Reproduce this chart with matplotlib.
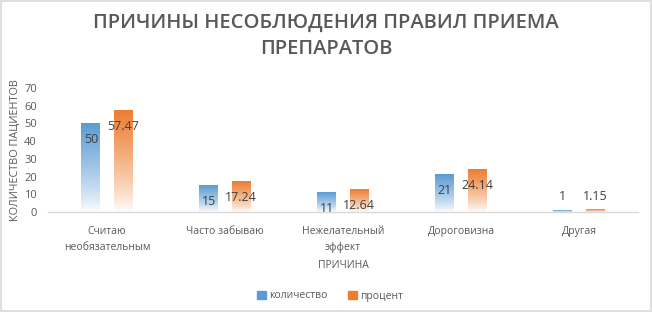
import numpy as np
import matplotlib
matplotlib.use("Agg")
import matplotlib.pyplot as plt
from matplotlib.patches import Rectangle

### Data ###
categories = ["Считаю\nнеобязательным", "Часто забываю", "Нежелательный\nэффект",
              "Дороговизна", "Другая"]
count_vals = [50, 15, 11, 21, 1]
percent_vals = [57.47, 17.24, 12.64, 24.14, 1.15]
count_labels = ["50", "15", "11", "21", "1"]
percent_labels = ["57.47", "17.24", "12.64", "24.14", "1.15"]
series_names = ["количество", "процент"]
y_ticks = [0, 10, 20, 30, 40, 50, 60, 70]

BLUE = "#5B9BD5"
ORANGE = "#ED7D31"
GRAY = "#595959"
FONT = ["Open Sans", "DejaVu Sans"]

plt.rcParams["font.family"] = FONT

fig = plt.figure(figsize=(6.52, 3.12), dpi=100)
ax = fig.add_axes([48 / 652, 1 - 212 / 312, (638 - 48) / 652, (212 - 88) / 312])


# vertical gradient bar: solid colour on top, fading to white at the base
def gradient_bar(ax, xc, width, height, color):
    rgb = matplotlib.colors.to_rgb(color)
    n = 128
    t = np.linspace(0, 1, n) ** 0.8
    img = np.ones((n, 1, 4))
    img[:, 0, :3] = rgb
    img[:, 0, 3] = t
    ax.imshow(img, extent=[xc - width / 2, xc + width / 2, 0, height],
              origin="lower", aspect="auto", interpolation="bilinear", zorder=2)


x = np.arange(len(categories))
width = 0.161
off = 0.136

for i in range(len(categories)):
    gradient_bar(ax, x[i] - off, width, count_vals[i], BLUE)
    gradient_bar(ax, x[i] + off, width, percent_vals[i], ORANGE)

    # data labels (inside end, above the bar when too short)
    for xv, v, lab in [(x[i] - off, count_vals[i], count_labels[i]),
                       (x[i] + off, percent_vals[i], percent_labels[i])]:
        ly = v - 9 if v > 9 else v + 7.5
        ax.text(xv, ly, lab, ha="center", va="center", fontsize=9,
                color="#404040", zorder=3)

ax.set_xlim(-0.5, len(categories) - 0.5)
ax.set_ylim(0, 70)
ax.set_yticks(y_ticks)
ax.set_xticks(x)
ax.set_xticklabels(categories, fontsize=7.5, color=GRAY, linespacing=1.6)
ax.tick_params(axis="both", length=0, labelsize=8, labelcolor=GRAY)
ax.tick_params(axis="x", pad=10, labelsize=7.5)
ax.tick_params(axis="y", pad=8)

for s in ["top", "right", "left"]:
    ax.spines[s].set_visible(False)
ax.spines["bottom"].set_color("#D9D9D9")
ax.spines["bottom"].set_linewidth(1)

ax.set_ylabel("КОЛИЧЕСТВО ПАЦИЕНТОВ", fontsize=7.8, color=GRAY, labelpad=2)
ax.set_xlabel("ПРИЧИНА", fontsize=7.5, color=GRAY, labelpad=5)

fig.text(0.5, 1 - 36 / 312, "ПРИЧИНЫ НЕСОБЛЮДЕНИЯ ПРАВИЛ ПРИЕМА\nПРЕПАРАТОВ",
         ha="center", va="center", fontsize=14.5, fontweight="semibold",
         color=GRAY, linespacing=1.35)

# legend
handles = [Rectangle((0, 0), 1, 1, color=BLUE), Rectangle((0, 0), 1, 1, color=ORANGE)]
fig.legend(handles, series_names, loc="center", bbox_to_anchor=(330 / 652, 1 - 296 / 312),
           ncol=2, frameon=False, fontsize=7.5, labelcolor=GRAY, handlelength=0.8,
           handleheight=0.8, handletextpad=0.3, columnspacing=2.0)

# chart border
fig.patches.append(Rectangle((0.001, 0.002), 0.997, 0.995, transform=fig.transFigure,
                             fill=False, edgecolor="#D9D9D9", linewidth=1.2))

fig.savefig("out.png", dpi=100, facecolor="white")
